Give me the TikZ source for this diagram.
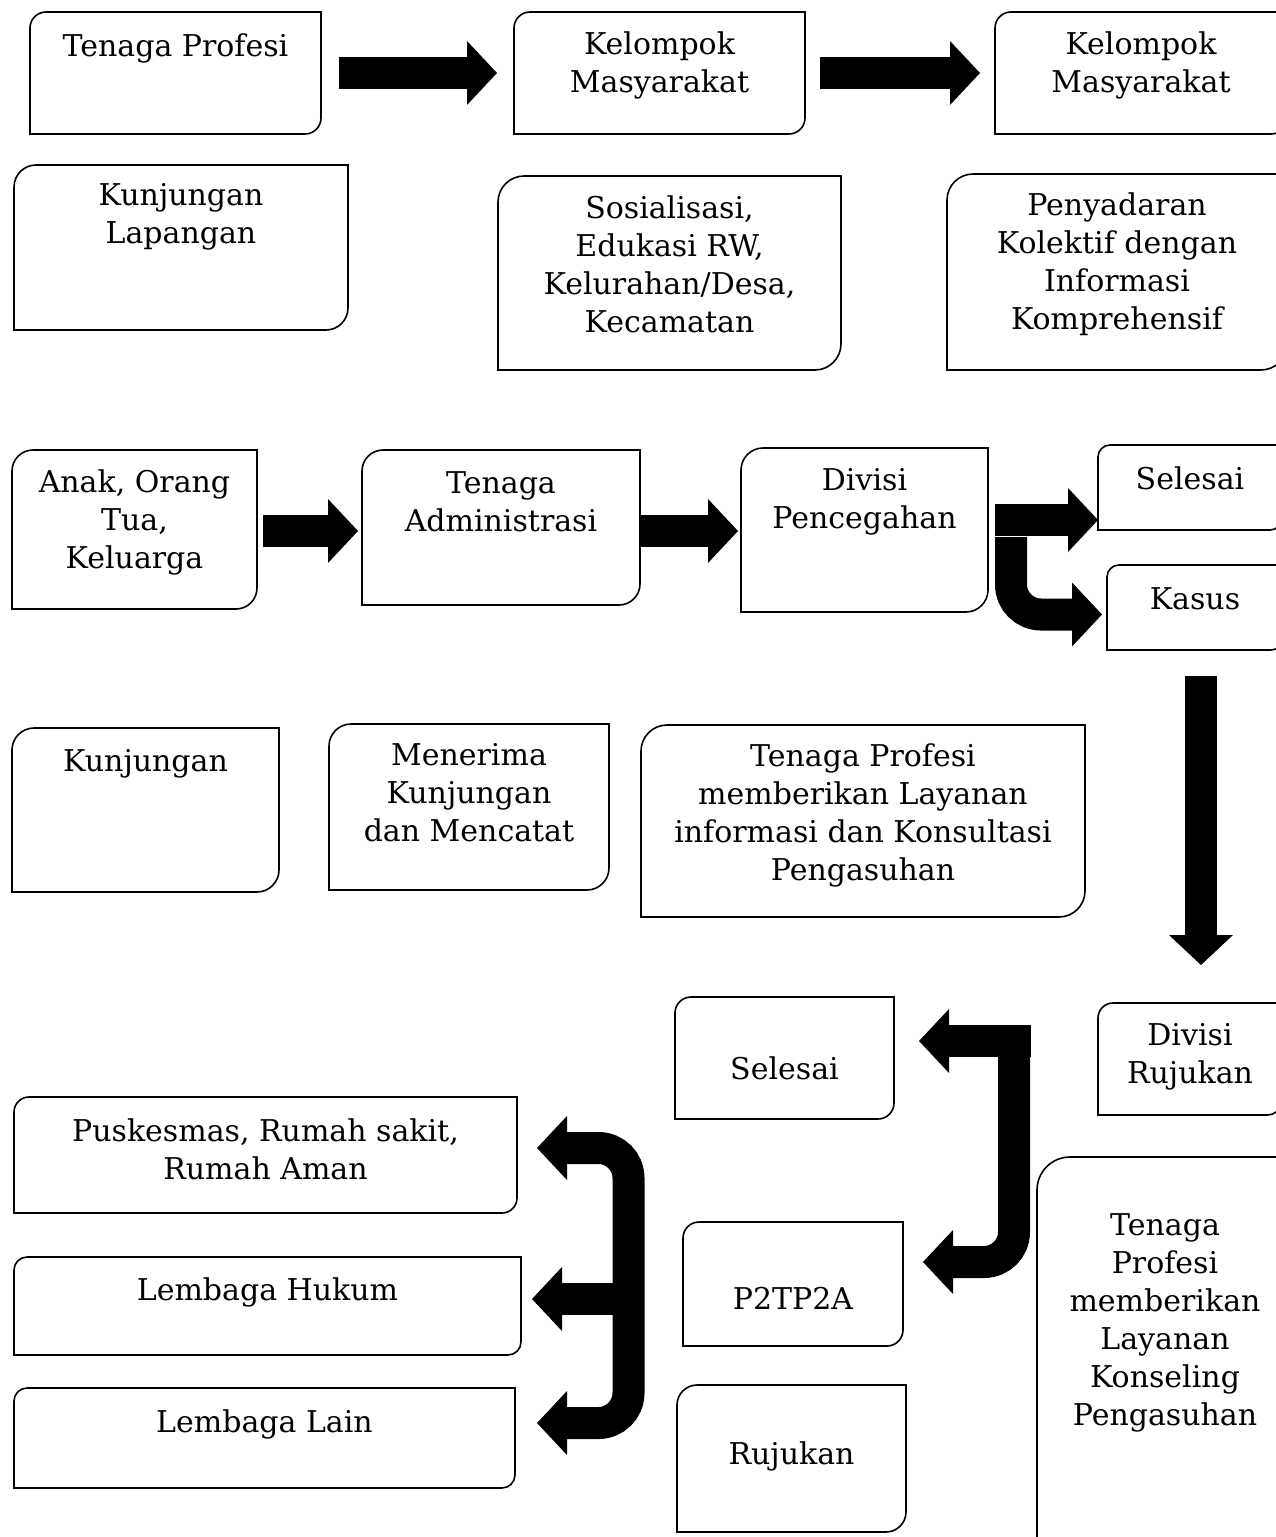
\documentclass[tikz,border=0pt]{standalone}
\usepackage{fontspec}
\setmainfont{DejaVu Serif}
\usetikzlibrary{arrows.meta,calc}

\tikzset{every picture/.style={line width=1.6pt}}

\begin{document}
\begin{tikzpicture}[x=1pt,y=1pt,yscale=-1,
  box/.style={inner sep=0pt, outer sep=0pt, anchor=north west},
  boxtext/.style={align=center, inner sep=0pt, font=\fontsize{30}{38}\selectfont},
  blockarrow/.style={line width=32pt, -{Triangle[length=30pt,width=64pt,line width=0pt]}},
]
\useasboundingbox (0,0) rectangle (1276,1537);

%Boxes
\node[box, minimum width=291pt, minimum height=122pt] (tp1) at (30,12) {};
\node[box, minimum width=291pt, minimum height=122pt] (km1) at (514,12) {};
\node[box, minimum width=292pt, minimum height=122pt] (km2) at (995,12) {};
\node[box, minimum width=334pt, minimum height=165pt] (kl) at (14,165) {};
\node[box, minimum width=343pt, minimum height=194pt] (sos) at (498,176) {};
\node[box, minimum width=340pt, minimum height=196pt] (pny) at (947,174) {};
\node[box, minimum width=245pt, minimum height=159pt] (ako) at (12,450) {};
\node[box, minimum width=278pt, minimum height=155pt] (tad) at (362,450) {};
\node[box, minimum width=247pt, minimum height=164pt] (dpc) at (741,448) {};
\node[box, minimum width=184pt, minimum height=85pt] (sl1) at (1098,445) {};
\node[box, minimum width=176pt, minimum height=85pt] (kas) at (1107,565) {};
\node[box, minimum width=267pt, minimum height=164pt] (kjg) at (12,728) {};
\node[box, minimum width=280pt, minimum height=166pt] (mnr) at (329,724) {};
\node[box, minimum width=444pt, minimum height=192pt] (tpl) at (641,725) {};
\node[box, minimum width=184pt, minimum height=112pt] (dru) at (1098,1003) {};
\node[box, minimum width=219pt, minimum height=122pt] (sl2) at (675,997) {};
\node[box, minimum width=503pt, minimum height=116pt] (pusk) at (14,1097) {};
\node[box, minimum width=507pt, minimum height=98pt] (lhk) at (14,1257) {};
\node[box, minimum width=501pt, minimum height=100pt] (lln) at (14,1388) {};
\node[box, minimum width=220pt, minimum height=124pt] (p2) at (683,1222) {};
\node[box, minimum width=229pt, minimum height=147pt] (ruj) at (677,1385) {};
\node[box, minimum width=256pt, minimum height=403pt] (tpk) at (1037,1157) {};

%Round diagonal corners (top left and bottom right)
\foreach \b/\r in {tp1/16, km1/16, km2/16, kl/22, sos/26, pny/26,
    ako/21, tad/21, dpc/22, sl1/12, kas/12, kjg/22, mnr/22,
    tpl/26, dru/15, sl2/16, pusk/15, lhk/13, lln/13, p2/16,
    ruj/20, tpk/33} {
  \draw ($(\b.north west)+(0,\r)$)
      .. controls ($(\b.north west)+(0,0.45*\r)$) and ($(\b.north west)+(0.45*\r,0)$) .. ($(\b.north west)+(\r,0)$)
      -- (\b.north east) -- ($(\b.south east)+(0,-\r)$)
      .. controls ($(\b.south east)+(0,-0.45*\r)$) and ($(\b.south east)+(-0.45*\r,0)$) .. ($(\b.south east)+(-\r,0)$)
      -- (\b.south west) -- cycle;
}

% Text Node
\node[boxtext] (tp1txt) at (175.5,48) {Tenaga Profesi};
\node[boxtext] (km1txt) at (659.5,65.5) {Kelompok\\Masyarakat};
\node[boxtext] (km2txt) at (1141,65.5) {Kelompok\\Masyarakat};
\node[boxtext] (kltxt) at (181,217) {Kunjungan\\Lapangan};
\node[boxtext] (sostxt) at (669.5,264.5) {Sosialisasi,\\Edukasi RW,\\Kelurahan/Desa,\\Kecamatan};
\node[boxtext] (pnytxt) at (1117,264) {Penyadaran\\Kolektif dengan\\Informasi\\Komprehensif};
\node[boxtext] (akotxt) at (134.5,522) {Anak, Orang\\Tua,\\Keluarga};
\node[boxtext] (tadtxt) at (501,501.5) {Tenaga\\Administrasi};
\node[boxtext] (dpctxt) at (864.5,502) {Divisi\\Pencegahan};
\node[boxtext] (sl1txt) at (1190,478) {Selesai};
\node[boxtext] (kastxt) at (1195,599) {Kasus};
\node[boxtext] (kjgtxt) at (145.5,764) {Kunjungan};
\node[boxtext] (mnrtxt) at (469,793) {Menerima\\Kunjungan\\dan Mencatat};
\node[boxtext] (tpltxt) at (863,815) {Tenaga Profesi\\memberikan Layanan\\informasi dan Konsultasi\\Pengasuhan};
\node[boxtext] (drutxt) at (1190,1057) {Divisi\\Rujukan};
\node[boxtext] (sl2txt) at (784.5,1068) {Selesai};
\node[boxtext] (pusktxt) at (265.5,1149) {Puskesmas, Rumah sakit,\\Rumah Aman};
\node[boxtext] (lhktxt) at (267.5,1292) {Lembaga Hukum};
\node[boxtext] (llntxt) at (264.5,1424) {Lembaga Lain};
\node[boxtext] (p2txt) at (793,1298) {P2TP2A};
\node[boxtext] (rujtxt) at (791.5,1456) {Rujukan};
\node[boxtext] (tpktxt) at (1165,1323) {Tenaga\\Profesi\\memberikan\\Layanan\\Konseling\\Pengasuhan};

%Block arrows
\draw[blockarrow] ($(tp1.east)+(18,0)$) -- ($(km1.west)+(-17,0)$);
\draw[blockarrow] ($(km1.east)+(15,0)$) -- ($(km2.west)+(-15,0)$);
\draw[blockarrow] ($(ako.east)+(6,1.5)$) -- ($(tad.west)+(-4,3.5)$);
\draw[blockarrow] ($(tad.east)+(0,3.5)$) -- ($(dpc.west)+(-3,1)$);
\draw[blockarrow] ($(dpc.east)+(7,-10)$) -- ($(sl1.west)+(0,32.5)$);
\draw[blockarrow, rounded corners=30pt] ($(dpc.east)+(23,7)$) |- ($(kas.west)+(-5,7)$);
\draw[blockarrow] ($(kas.south)+(6,26)$) -- ($(dru.north)+(11,-38)$);
\draw[blockarrow] ($(dru.west)+(-67,-18)$) -- ($(sl2.east)+(25,-17)$);
\draw[blockarrow, rounded corners=30pt] ($(dru.west)+(-84,-2)$) |- ($(p2.east)+(20,-22)$);

\coordinate (split) at (628.5,1299);
\draw[blockarrow] ($(split)+(15.5,0)$) -- ($(lhk.east)+(11,-7)$);
\draw[blockarrow, rounded corners=30pt] (split) |- ($(pusk.east)+(20,-7)$);
\draw[blockarrow, rounded corners=30pt] (split) |- ($(lln.east)+(22,-15)$);

\end{tikzpicture}
\end{document}
